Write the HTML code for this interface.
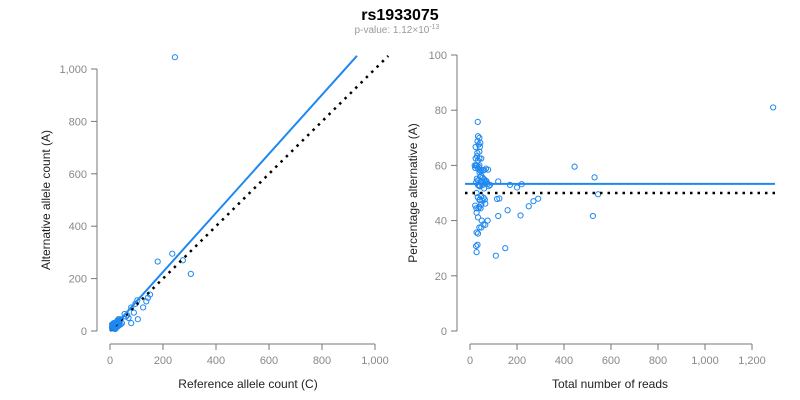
<!DOCTYPE html>
<html><head><meta charset="utf-8">
<style>
body{margin:0;background:#fff;}
svg{display:block;font-family:"Liberation Sans",Arial,sans-serif;}
</style></head>
<body>
<svg id="chart" width="800" height="400">
<text x="400" y="20" text-anchor="middle" font-size="16" font-weight="bold" fill="#000">rs1933075</text>
<text x="397" y="33" text-anchor="middle" font-size="10" fill="#999">p-value: 1.12×10<tspan dy="-4" font-size="7">-13</tspan></text>
<g id="left"></g>
<g id="right"></g>
</svg>
<script>
// data: [reference count, alternative count]
const refCounts=[10,12,15,8,20,14,18,22,25,16,11,9,13,17,19,21,24,12,15,18,20,23,26,28,30,14,10,16,22,25,12,18,27,30,32,20,15,11,9,13,24,26,19,17,21,23,29,33,35,12,8,14,16,20,25,30,18,22,14,10,8,12,14,20,18,22,15,40,38,30,35,28,25,35,30,45,40,32,80,105,90,80,96,125,103,137,143,151,180,235,305,275,60,55,70,65,245];
const altCounts=[15,14,18,12,22,20,25,20,28,18,19,13,21,16,24,27,23,10,12,30,28,32,30,25,35,28,22,24,18,20,18,20,33,28,38,16,25,20,15,16,30,22,21,23,19,27,31,30,40,25,16,14,12,14,15,20,10,12,26,24,25,28,30,8,8,10,22,45,42,36,30,40,35,22,18,30,25,45,30,45,70,90,104,90,117,113,127,139,265,295,218,270,55,65,50,60,1045];
const leftFitSlope=1.127, leftFitMaxX=932, leftDiagMax=1050;
const rightFitLevel=53.3, rightNullLevel=50;
const leftXTicks=[0,200,400,600,800,1000], leftXTickLabels=["0","200","400","600","800","1,000"];
const leftYTicks=[0,200,400,600,800,1000], leftYTickLabels=["0","200","400","600","800","1,000"];
const rightXTicks=[0,200,400,600,800,1000,1200], rightXTickLabels=["0","200","400","600","800","1,000","1,200"];
const rightYTicks=[0,20,40,60,80,100], rightYTickLabels=["0","20","40","60","80","100"];

const NS="http://www.w3.org/2000/svg";
function mk(parent,tag,attrs,text){const e=document.createElementNS(NS,tag);for(const k in attrs)e.setAttribute(k,attrs[k]);if(text!==undefined)e.textContent=text;parent.appendChild(e);return e;}
const BLUE="#1e88f0";

function axes(g,sx,sy,xt,xl,yt,yl,xAxisY,yAxisX,xlab,ylab,xlabX,ylabY,ylabOff){
  const ax=mk(g,"g",{});
  
  
  mk(ax,"line",{x1:sx(xt[0]),x2:sx(xt[xt.length-1]),y1:xAxisY,y2:xAxisY,stroke:"#777"});
  xt.forEach((t,i)=>{mk(ax,"line",{x1:sx(t),x2:sx(t),y1:xAxisY,y2:xAxisY+6,stroke:"#777"});
    const tx=mk(ax,"text",{x:sx(t),y:xAxisY+20,"text-anchor":"middle","font-size":"11",fill:"#888"},xl[i]);
    
    });
  const xtt=mk(ax,"text",{x:xlabX,y:388,"text-anchor":"middle","font-size":"12",fill:"#222"},xlab);
  
  
  const ay=mk(g,"g",{});
  
  
  mk(ay,"line",{x1:yAxisX,x2:yAxisX,y1:sy(yt[0]),y2:sy(yt[yt.length-1]),stroke:"#777"});
  yt.forEach((t,i)=>{mk(ay,"line",{x1:yAxisX-6,x2:yAxisX,y1:sy(t),y2:sy(t),stroke:"#777"});
    const tx=mk(ay,"text",{x:yAxisX-10,y:sy(t)+4,"text-anchor":"end","font-size":"11",fill:"#888"},yl[i]);
    
    });
  const ytt=mk(ay,"text",{x:0,y:0,transform:`translate(${yAxisX-ylabOff},${ylabY}) rotate(-90)`,"text-anchor":"middle","font-size":"12",fill:"#222"},ylab);
  
  
}

// Left panel
const L=document.getElementById("left");
const lx=v=>110+v*0.265, ly=v=>331-v*0.262;
axes(L,lx,ly,leftXTicks,leftXTickLabels,leftYTicks,leftYTickLabels,344,97,"Reference allele count (C)","Alternative allele count (A)",248,200,47);
refCounts.forEach((r,i)=>{const c=mk(L,"circle",{cx:lx(r),cy:ly(altCounts[i]),r:2.6,fill:"none",stroke:BLUE,"stroke-width":1});
  
  });
const ld=mk(L,"line",{x1:lx(0),y1:ly(0),x2:lx(leftDiagMax),y2:ly(leftDiagMax),stroke:"#000","stroke-width":2.5,"stroke-dasharray":"2.5 5"});


const lf=mk(L,"line",{x1:lx(0),y1:ly(0),x2:lx(leftFitMaxX),y2:ly(leftFitMaxX*leftFitSlope),stroke:BLUE,"stroke-width":2});



// Right panel
const R=document.getElementById("right");
const rx=v=>470+v*0.235, ry=v=>331-v*2.76;
axes(R,rx,ry,rightXTicks,rightXTickLabels,rightYTicks,rightYTickLabels,344,457,"Total number of reads","Percentage alternative (A)",610,193,40);
refCounts.forEach((r,i)=>{const t=r+altCounts[i];const c=mk(R,"circle",{cx:rx(t),cy:ry(100*altCounts[i]/t),r:2.6,fill:"none",stroke:BLUE,"stroke-width":1});
  
  });
const rn=mk(R,"line",{x1:465,y1:ry(rightNullLevel),x2:775,y2:ry(rightNullLevel),stroke:"#000","stroke-width":2.5,"stroke-dasharray":"2.5 5"});


const rf=mk(R,"line",{x1:465,y1:ry(rightFitLevel),x2:775,y2:ry(rightFitLevel),stroke:BLUE,"stroke-width":2});


</script>
</body></html>
